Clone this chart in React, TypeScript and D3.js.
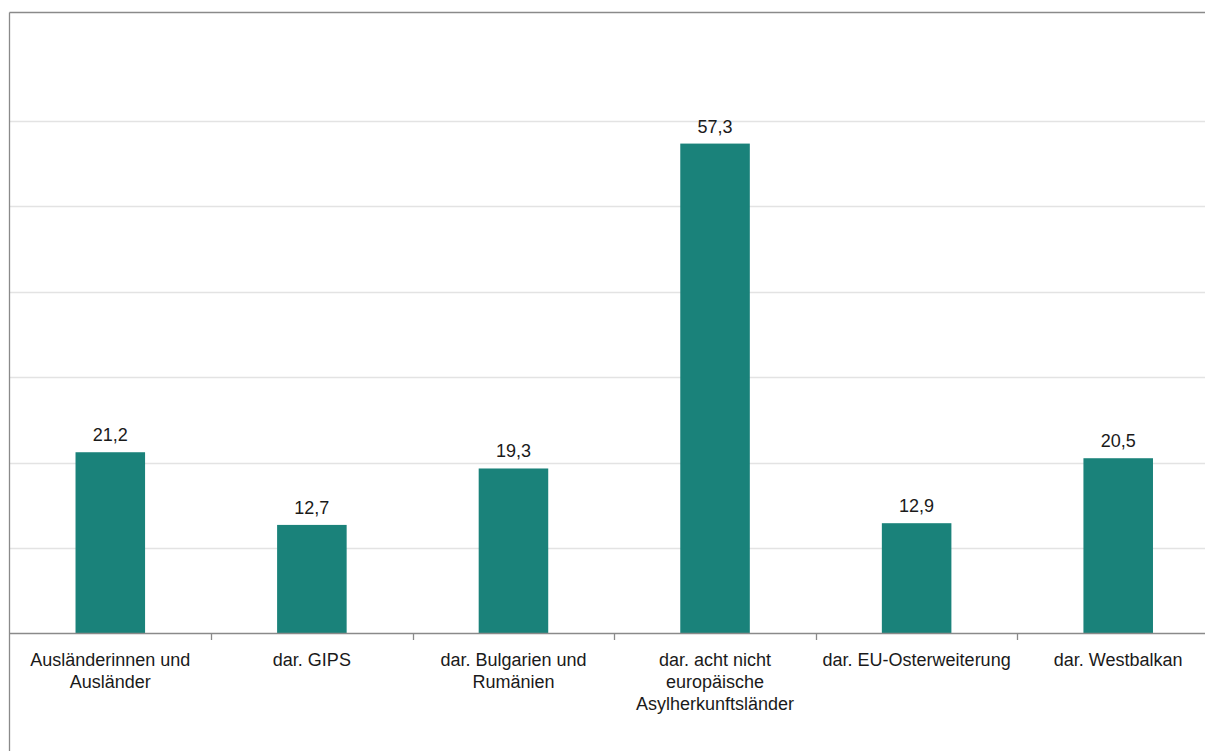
import React from "react";
import * as d3 from "d3";

const categories: string[][] = [
  ["Ausländerinnen und", "Ausländer"],
  ["dar. GIPS"],
  ["dar. Bulgarien und", "Rumänien"],
  ["dar. acht nicht", "europäische", "Asylherkunftsländer"],
  ["dar. EU-Osterweiterung"],
  ["dar. Westbalkan"],
];
const values: number[] = [21.2, 12.7, 19.3, 57.3, 12.9, 20.5];
const yTicks: number[] = [10, 20, 30, 40, 50, 60];

const W = 1205;
const H = 751;
const FONT = "'Liberation Sans', Arial, sans-serif";

export default function App() {
  const keys = categories.map((c) => c.join(" "));
  const x = d3.scaleBand<string>().domain(keys).range([9.5, 1219]).padding(0);
  const y = d3.scaleLinear().domain([0, 60]).range([633.5, 120.5]);
  const step = x.step();
  const barW = step * 0.345;
  const fmt = (v: number) => d3.format(".1f")(v).replace(".", ",");

  return (
    <svg
      width={W}
      height={H}
      style={{ position: "absolute", left: 0, top: 0, background: "#fff" }}
    >
      {yTicks.map((t) => (
        <line key={t} x1={9.5} x2={W} y1={Math.round(y(t)) + 0.5} y2={Math.round(y(t)) + 0.5} stroke="#e3e3e3" strokeWidth={1.3} />
      ))}
      {keys.map((k, i) => {
        const cx = (x(k) as number) + step / 2;
        const top = y(values[i]);
        return (
          <g key={k}>
            <rect x={cx - barW / 2} y={top} width={barW} height={y(0) - top} fill="#1a827a" />
            <text x={cx} y={top - 11} textAnchor="middle" fontFamily={FONT} fontSize={18} fill="#1a1a1a">
              {fmt(values[i])}
            </text>
            {categories[i].map((line, j) => (
              <text key={j} x={cx} y={665.5 + j * 22.3} textAnchor="middle" fontFamily={FONT} fontSize={18} fill="#1a1a1a">
                {line}
              </text>
            ))}
          </g>
        );
      })}
      <line x1={9.5} x2={W} y1={633.5} y2={633.5} stroke="#8a8a8a" strokeWidth={1.3} />
      {keys.slice(1).map((k) => {
        const bx = Math.round(x(k) as number) + 0.5;
        return <line key={k} x1={bx} x2={bx} y1={633.5} y2={640} stroke="#8a8a8a" strokeWidth={1.3} />;
      })}
      <line x1={9.5} x2={9.5} y1={12.5} y2={H} stroke="#8a8a8a" strokeWidth={1.3} />
      <line x1={9.5} x2={W} y1={12.5} y2={12.5} stroke="#8a8a8a" strokeWidth={1.3} />
    </svg>
  );
}
